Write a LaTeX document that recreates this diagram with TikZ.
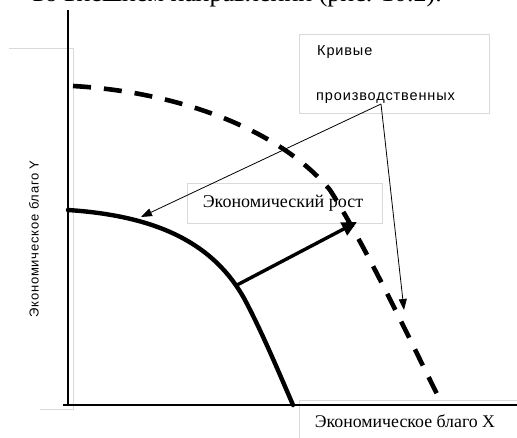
\documentclass[tikz,border=0pt]{standalone}
\usepackage{fontspec}
\setmainfont{Liberation Serif}
\newfontfamily\lsans{Liberation Sans}
\usetikzlibrary{arrows.meta}
\begin{document}
\begin{tikzpicture}[x=1pt,y=-1pt,
  graybox/.style={draw=gray!30,line width=0.8pt,inner sep=0pt},
  grayline/.style={draw=gray!30,line width=0.8pt},
  axisline/.style={line width=1.8pt,black},
  thin arrow/.style={line width=0.8pt,-{Triangle[length=11pt,width=8pt]}},
  curvesolid/.style={line width=4.4pt,line cap=round},
  curvedash/.style={line width=4.6pt,dash pattern=on 18pt off 13pt}]
\useasboundingbox (0,0) rectangle (517,437);
\clip (0,0) rectangle (517,437);
% cut-off text line at the top
\node[anchor=base east,inner sep=0pt,font=\fontsize{26}{26}\selectfont] (toptext) at (442,1.5) {во внешнем направлении (рис. 10.2).};
% label boxes
\coordinate (yb1) at (9,48);
\coordinate (yb2) at (73,48);
\coordinate (yb3) at (73,409);
\coordinate (yb4) at (40,409);
\draw[grayline] (yb1) -- (yb2) -- (yb3) -- (yb4);
\node[rotate=90,inner sep=0pt,font=\lsans\fontsize{13}{13}\selectfont\addfontfeature{LetterSpace=6}] (ylab) at (34,239) {Экономическое благо Y};
\node[graybox,minimum width=240pt,minimum height=60pt] (xbox) at (419,430) {};
\node[inner sep=0pt,font=\fontsize{17.8}{17.8}\selectfont] (xlab) at (405,421) {Экономическое благо X};
\node[graybox,minimum width=190pt,minimum height=79pt] (cbox) at (394,73.5) {};
\node[anchor=west,inner sep=0pt,font=\lsans\fontsize{14.5}{14.5}\selectfont\addfontfeature{LetterSpace=6}] (kr) at (317,52) {Кривые};
\node[anchor=west,inner sep=0pt,font=\lsans\fontsize{14.5}{14.5}\selectfont\addfontfeature{LetterSpace=6}] (pr) at (316,98) {производственных};
\node[graybox,minimum width=195pt,minimum height=40pt] (gbox) at (284.5,203) {};
\node[inner sep=0pt,font=\fontsize{18}{18}\selectfont] (glab) at (283,203) {Экономический рост};
% axes
\coordinate (O) at (68,405);
\coordinate (ytop) at (68,10);
\coordinate (xend) at (517,405);
\coordinate (xstart) at (63,405);
\draw[axisline] (O) -- (ytop);
\draw[axisline] (xstart) -- (xend);
\fill (68,210) circle (2pt);
% curves
\coordinate (s0) at (68,210);
\coordinate (s1) at (245,300);
\coordinate (s2) at (293,405);
\draw[curvesolid] (s0) .. controls (160,216) and (215,245) .. (s1) .. controls (262,332) and (280,375) .. (s2);
\coordinate (d0) at (73,86);
\coordinate (d1) at (330,190);
\coordinate (d2) at (440,400);
\draw[curvedash] (d0) .. controls (180,92) and (280,130) .. (d1) .. controls (365,245) and (405,330) .. (d2);
% arrows
\coordinate (src) at (381,104);
\coordinate (tipA) at (141,217);
\coordinate (tipB) at (404,310);
\coordinate (gA) at (237,285);
\coordinate (gB) at (357,222);
\draw[thin arrow] (src) -- (tipA);
\draw[thin arrow] (src) -- (tipB);
\draw[line width=3.4pt,-{Triangle[length=15pt,width=14pt]}] (gA) -- (gB);
\end{tikzpicture}
\end{document}
